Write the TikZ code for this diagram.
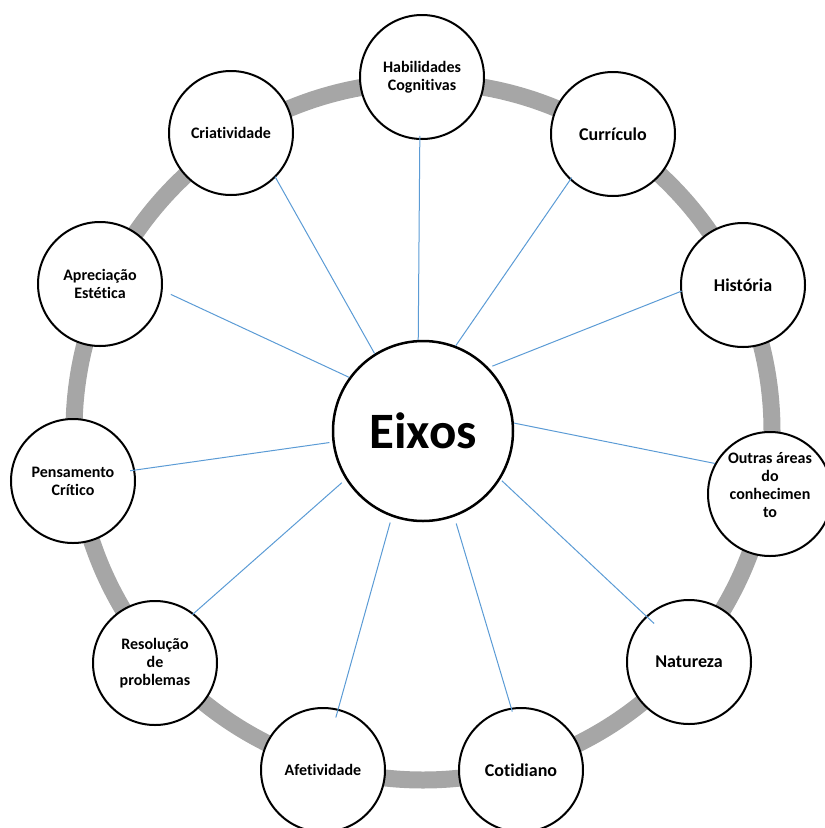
\documentclass[tikz,border=0pt]{standalone}
\usepackage{fontspec}
\setmainfont{Carlito}[Ligatures=NoCommon]
\definecolor{ringgray}{RGB}{166,166,166}
\definecolor{linkblue}{RGB}{91,155,213}
\begin{document}
\begin{tikzpicture}[x=1pt,y=-1pt,
  topic/.style={circle,draw=black,line width=2pt,fill=white,minimum size=124pt,inner sep=1pt,align=center,font=\fontsize{16}{18}\selectfont\bfseries},
  bigtopic/.style={topic,font=\fontsize{18}{20}\selectfont\bfseries},
  hub/.style={circle,draw=black,line width=2.5pt,fill=white,minimum size=180pt,inner sep=1pt,font=\fontsize{51}{55}\selectfont\bfseries},
  link/.style={draw=linkblue,line width=1pt},
  ring/.style={draw=ringgray,line width=17pt}]
\clip (0,0) rectangle (825,828);
\coordinate (ringc) at (423,431);
\draw[ring] (ringc) circle[radius=349pt];
\node[hub] (eixos) at (423,431) {Eixos};
\node[topic] (hab) at (422,77) {Habilidades\\Cognitivas};
\node[topic] (crea) at (231,133) {Criatividade};
\node[bigtopic] (curr) at (613,134) {Currículo};
\node[bigtopic] (hist) at (743,285) {História};
\node[topic] (outras) at (770,494) {Outras áreas\\do\\conhecimen\\to\\[0pt]\mbox{}};
\node[bigtopic] (natu) at (689,662) {Natureza};
\node[bigtopic] (coti) at (521,770) {Cotidiano};
\node[topic] (afet) at (323,770) {Afetividade};
\node[topic] (reso) at (155,663) {Resolução\\de\\problemas};
\node[topic] (pens) at (73,481) {Pensamento\\Crítico};
\node[topic] (apre) at (100,284) {Apreciação\\Estética};
\draw[link,shorten >=-4pt] (eixos.93) -- (hab.268);
\draw[link,shorten >=-1pt] (eixos.122) -- (crea.315);
\draw[link,shorten >=-3pt] (eixos.69) -- (curr.227);
\draw[link,shorten >=9pt] (eixos.144.5) -- (apre.354);
\draw[link] (eixos.5) -- (outras.151);
\draw[link,shorten <=3pt,shorten >=-5pt] (eixos.187) -- (pens.10);
\draw[link,shorten <=5pt,shorten >=-2pt] (eixos.212) -- (reso.52);
\draw[link,shorten <=6pt,shorten >=-9pt] (eixos.250) -- (afet.76);
\draw[link,shorten <=7pt,shorten >=-4pt] (eixos.290) -- (coti.99);
\draw[link,shorten <=2pt,shorten >=-11pt] (eixos.328) -- (natu.133.5);
\draw[link,shorten <=4pt,shorten >=-1.5pt] (eixos.44) -- (hist.186.5);
\end{tikzpicture}
\end{document}
